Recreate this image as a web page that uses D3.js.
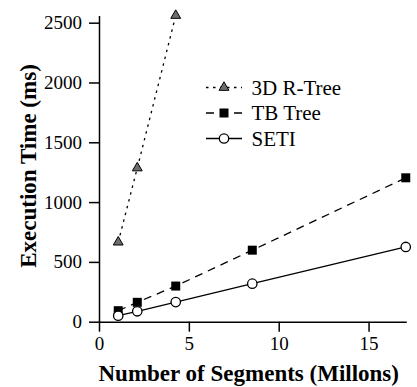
<!DOCTYPE html>
<html>
<head>
<meta charset="utf-8">
<script src="https://cdn.jsdelivr.net/npm/d3@7"></script>
<style>
body { margin: 0; background: #fff; }
</style>
</head>
<body>
<svg id="canvas" width="417" height="387"></svg>
<script>
// segments in millions
var segments = [1.07, 2.13, 4.27, 8.53, 17.07];
var rtree_times = [665, 1285, 2560];
var tb_times = [92, 162, 298, 598, 1203];
var seti_times = [50, 87, 164, 318, 625];
var series_names = ['3D R-Tree', 'TB Tree', 'SETI'];
var x_tick_labels = [0, 5, 10, 15];
var y_tick_labels = [0, 500, 1000, 1500, 2000, 2500];

var styles = [
    {kind: 'triangle', dash: '2.5,4.5'},
    {kind: 'square', dash: '8,6'},
    {kind: 'circle', dash: null}
];
var serif = '"Liberation Serif", "Times New Roman", Times, serif';

var svg = d3.select('#canvas');

var x_scale = d3.scaleLinear().domain([0, 17.1]).range([99, 406.3]);
var y_scale = d3.scaleLinear().domain([0, 2560]).range([321.7, 15.5]);

draw_axes();
draw_series();
draw_legend();
svg.selectAll('text').style('font-family', serif).attr('fill', '#000');

function draw_axes(){
    var x_g = svg.append('g').attr('transform', 'translate(0,' + y_scale(0) + ')');
    x_g.call(d3.axisBottom(x_scale).tickValues(d3.range(0, 18)).tickSize(5).tickFormat('').tickSizeOuter(0));
    x_g.call(d3.axisBottom(x_scale).tickValues(x_tick_labels).tickSize(10).tickPadding(5)
             .tickFormat(d3.format('d')).tickSizeOuter(0));
    var y_g = svg.append('g').attr('transform', 'translate(' + x_scale(0) + ',0)');
    y_g.call(d3.axisLeft(y_scale).tickValues(d3.range(0, 2600, 100)).tickSize(5).tickFormat('').tickSizeOuter(0));
    y_g.call(d3.axisLeft(y_scale).tickValues(y_tick_labels).tickSize(10).tickPadding(7)
             .tickFormat(d3.format('d')).tickSizeOuter(0));

    x_g.attr('font-family', null).attr('font-size', null);
    y_g.attr('font-family', null).attr('font-size', null);
    svg.selectAll('.domain, .tick line').attr('stroke', '#000').attr('stroke-width', 1.5);
    svg.selectAll('.tick text').style('font-size', '19px');

    svg.append('text')
        .attr('x', 98.5).attr('y', 381)
        .style('font-size', '23px').style('font-weight', 'bold')
        .text('Number of Segments (Millons)');
    svg.append('text')
        .attr('transform', 'translate(36,166) rotate(-90)')
        .attr('text-anchor', 'middle')
        .style('font-size', '23px').style('font-weight', 'bold')
        .text('Execution Time (ms)');
}

function marker(g, kind, x, y){
    if(kind == 'triangle'){
        g.append('path')
            .attr('d', d3.symbol().type(d3.symbolTriangle).size(42)())
            .attr('transform', 'translate(' + x + ',' + y + ')')
            .attr('fill', '#6e6e6e').attr('stroke', '#000').attr('stroke-width', 1);
    } else if(kind == 'square'){
        g.append('rect')
            .attr('x', x - 4.5).attr('y', y - 4.5).attr('width', 9).attr('height', 9)
            .attr('fill', '#000');
    } else {
        g.append('circle')
            .attr('cx', x).attr('cy', y).attr('r', 4.7)
            .attr('fill', '#fff').attr('stroke', '#000').attr('stroke-width', 1.3);
    }
}

function draw_series(){
    var all = [rtree_times, tb_times, seti_times];
    var line = d3.line()
        .x(function(d){return x_scale(d[0])})
        .y(function(d){return y_scale(d[1])});
    all.forEach(function(times, i){
        var pts = times.map(function(t, j){return [segments[j], t]});
        var g = svg.append('g');
        g.append('path')
            .attr('d', line(pts))
            .attr('fill', 'none').attr('stroke', '#000').attr('stroke-width', 1.3)
            .attr('stroke-dasharray', styles[i].dash);
        pts.forEach(function(p){
            marker(g, styles[i].kind, x_scale(p[0]), y_scale(p[1]));
        });
    });
}

function draw_legend(){
    var g = svg.append('g');
    series_names.forEach(function(name, i){
        var y = 87.5 + i * 25.5;
        g.append('line')
            .attr('x1', 206).attr('x2', 242).attr('y1', y).attr('y2', y)
            .attr('stroke', '#000').attr('stroke-width', 1.3)
            .attr('stroke-dasharray', styles[i].dash);
        marker(g, styles[i].kind, 224, y);
        g.append('text')
            .attr('x', 251.5).attr('y', y).attr('dy', '0.35em')
            .style('font-size', '21px')
            .text(name);
    });
}
</script>
</body>
</html>
